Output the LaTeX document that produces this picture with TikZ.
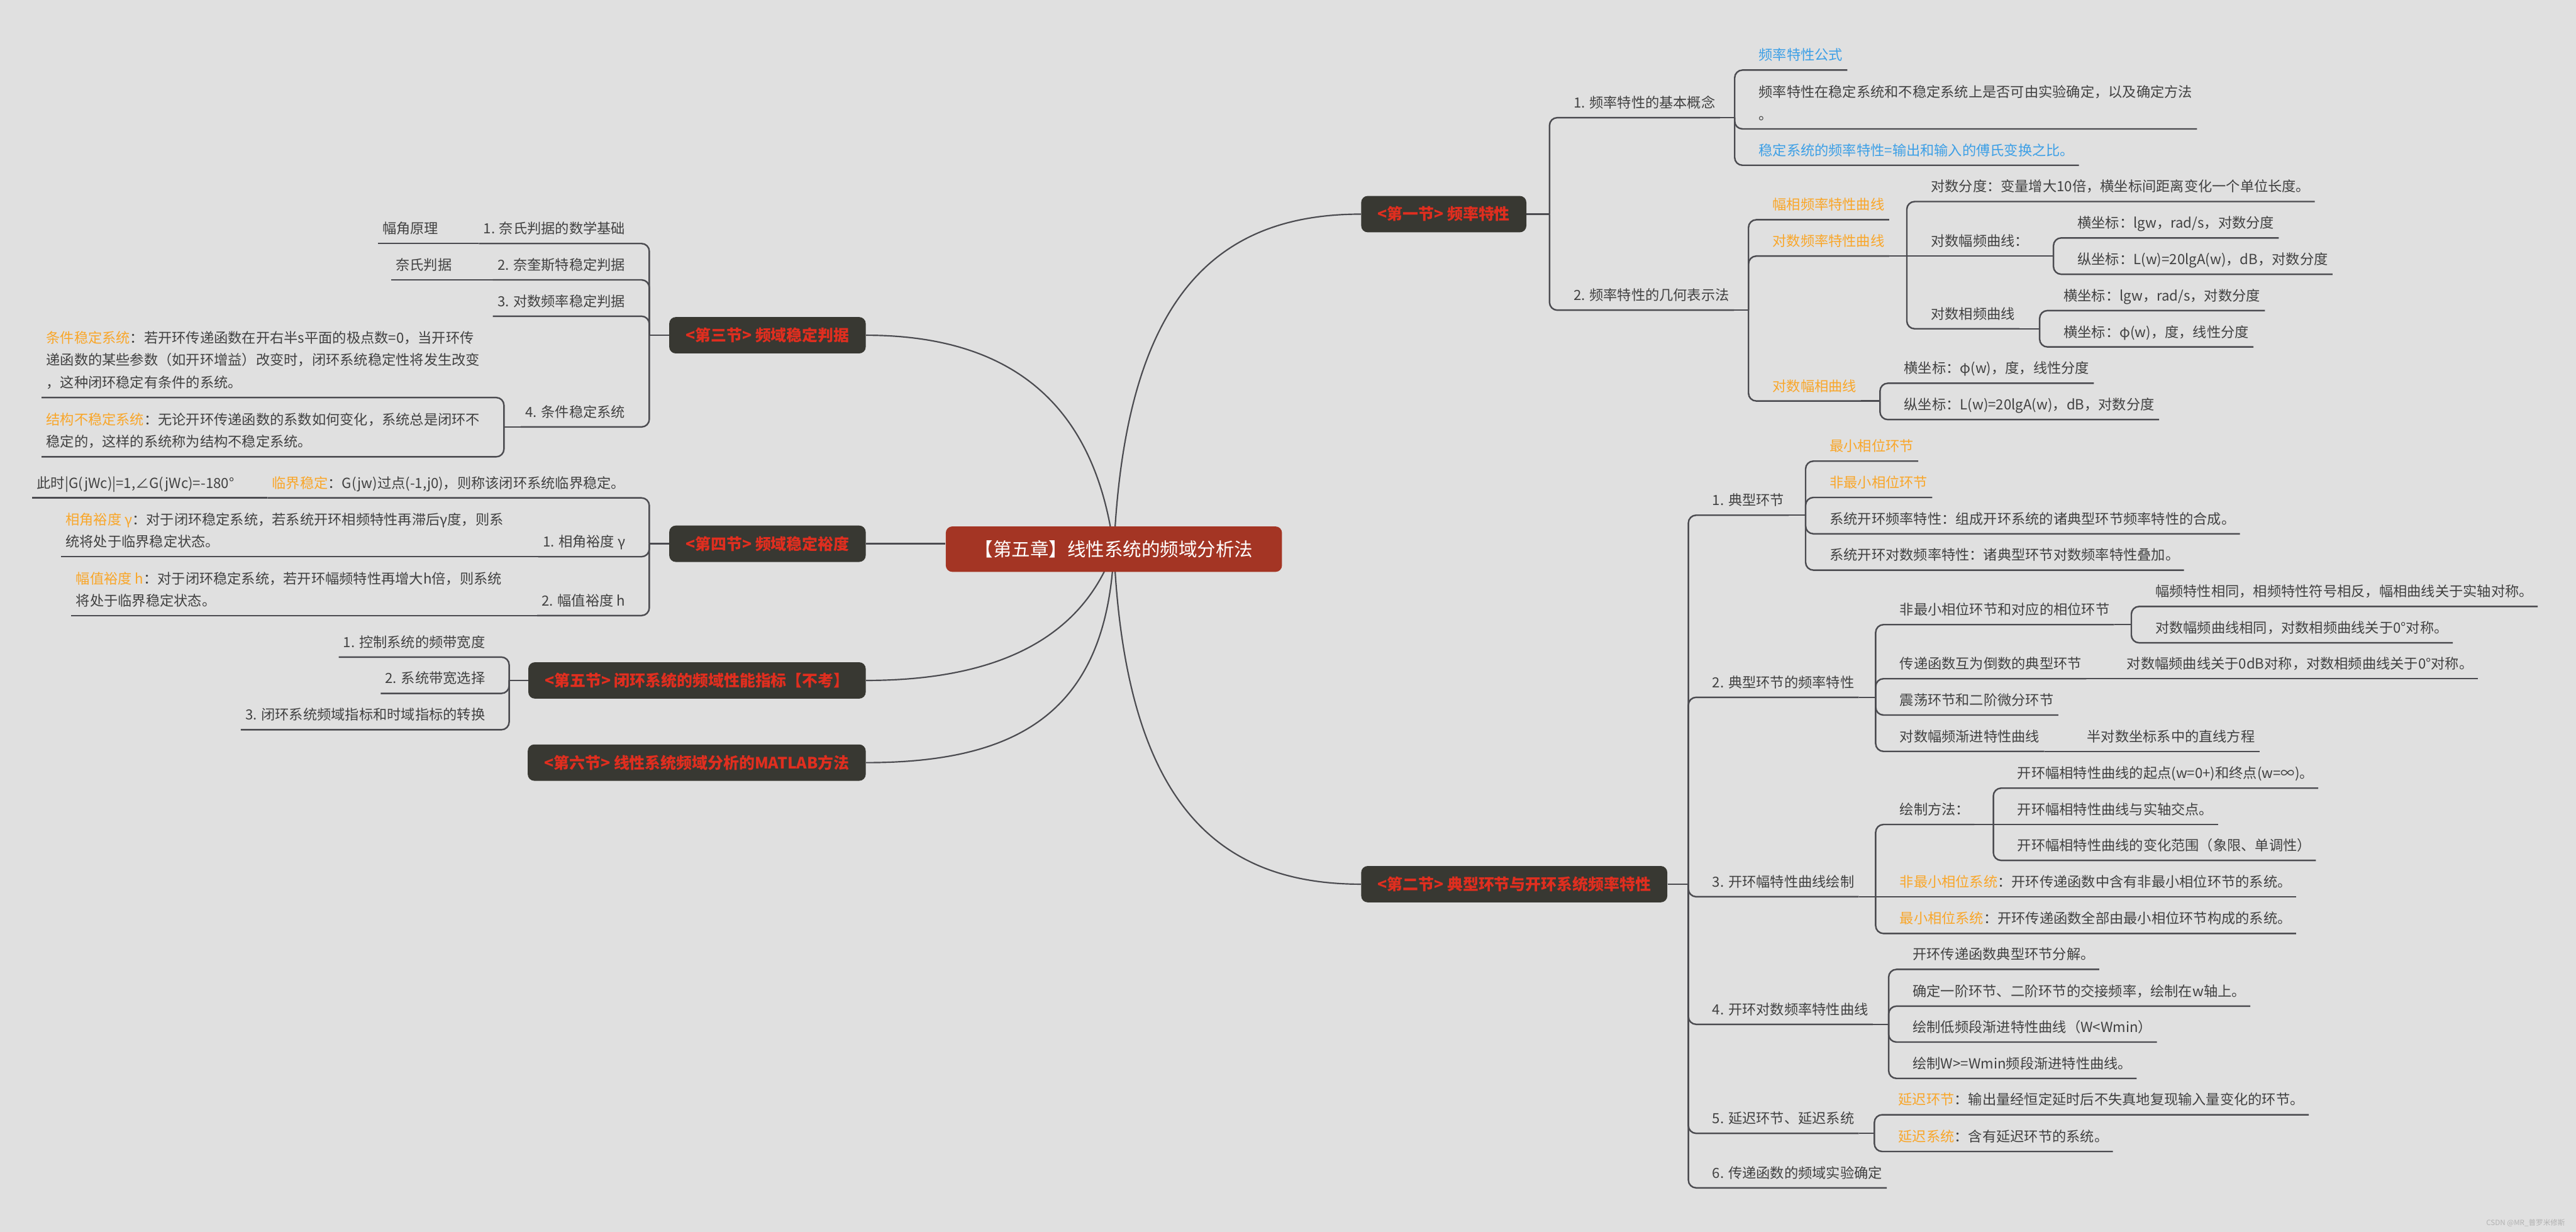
\documentclass[tikz,border=0pt]{standalone}
\usepackage{fontspec}
\setmainfont{Noto Sans CJK SC}
\usetikzlibrary{calc}
\definecolor{bgc}{HTML}{E0E0E0}
\definecolor{linegray}{HTML}{4B4B50}
\definecolor{txtgray}{HTML}{414141}
\definecolor{orc}{HTML}{F9A629}
\definecolor{blc}{HTML}{3C9FE6}
\definecolor{secgray}{HTML}{383832}
\definecolor{secred}{HTML}{E02E1F}
\definecolor{rootred}{HTML}{A43524}
\newcommand\bodyfont{\fontsize{9.2pt}{14.6pt}\selectfont}
\newcommand\hlt[1]{\textcolor{orc}{#1}}

\begin{document}
\begin{tikzpicture}[
  rt/.style={fill=rootred,text=white,rounded corners=1.5mm,minimum height=10.5mm,inner xsep=6.7mm,font=\fontsize{12.2pt}{14pt}\selectfont},
  sec/.style={fill=secgray,text=secred,rounded corners=1.5mm,minimum height=8.4mm,inner xsep=3.8mm,font=\fontsize{10.3pt}{12pt}\selectfont\bfseries},
  tp/.style={anchor=south west,inner xsep=1mm,inner ysep=1.6mm,text height=2.6mm,text depth=0.6mm,font=\bodyfont,text=txtgray},
  tl/.style={tp,anchor=south east},
  tm/.style={anchor=south west,inner xsep=1mm,inner ysep=1.9mm,align=left,font=\bodyfont,text=txtgray},
  tml/.style={tm,anchor=south east},
  lk/.style={draw=linegray,line width=1pt},
  cv/.style={draw=linegray,line width=0.9pt}]
  % canvas
  \fill[bgc] (0,0) rectangle (59.55,-28.48);
  \useasboundingbox (0,0) rectangle (59.55,-28.48);
  % sections
  \node[sec,anchor=west] (s1) at (31.46,-4.95) {<第一节> 频率特性};
  \node[sec,anchor=west] (s2) at (31.46,-20.44) {<第二节> 典型环节与开环系统频率特性};
  \node[sec,anchor=east] (s3) at (20.02,-7.75) {<第三节> 频域稳定判据};
  \node[sec,anchor=east] (s4) at (20.02,-12.57) {<第四节> 频域稳定裕度};
  \node[sec,anchor=east] (s5) at (20.02,-15.73) {<第五节> 闭环系统的频域性能指标【不考】};
  \node[sec,anchor=east] (s6) at (20.02,-17.63) {<第六节> 线性系统频域分析的MATLAB方法};
  % root and its curves (drawn under the root box)
  \coordinate (rc) at (25.75,-12.695);
  \draw[cv] (rc) .. controls ($(rc)+(0.25,5.7)$) and ($(s1.west)+(-3.46,0)$) .. (s1.west);
  \draw[cv] (rc) .. controls ($(rc)+(0.25,-5.7)$) and ($(s2.west)+(-3.46,0)$) .. (s2.west);
  \draw[cv] (s3.east) .. controls ($(s3.east)+(3.98,0)$) and ($(rc)+(-0.35,2.7)$) .. (rc);
  \draw[cv] (s5.east) .. controls ($(s5.east)+(2.98,0)$) and ($(rc)+(-0.75,-2.1)$) .. (rc);
  \draw[cv] (s6.east) .. controls ($(s6.east)+(3.48,0)$) and ($(rc)+(-0.15,-3.8)$) .. (rc);
  \node[rt] (root) at (rc) {【第五章】线性系统的频域分析法};
  \draw[lk] (s4.east) -- (s4.east -| root.west);
  % first section
  \node[tp] (a1) at (36.27,-2.72) {1. 频率特性的基本概念};
  \node[tp] (a2) at (36.27,-7.17) {2. 频率特性的几何表示法};
  \node[tp,text=blc] (a11) at (40.55,-1.62) {频率特性公式};
  \node[tm] (a12) at (40.55,-2.98) {频率特性在稳定系统和不稳定系统上是否可由实验确定，以及确定方法\\。};
  \node[tp,text=blc] (a13) at (40.55,-3.82) {稳定系统的频率特性=输出和输入的傅氏变换之比。};
  \node[tp,text=orc] (a21) at (40.87,-5.08) {幅相频率特性曲线};
  \node[tp,text=orc] (a22) at (40.87,-5.92) {对数频率特性曲线};
  \node[tp,text=orc] (a23) at (40.87,-9.27) {对数幅相曲线};
  \node[tp] (a221) at (44.53,-4.66) {对数分度：变量增大10倍，横坐标间距离变化一个单位长度。};
  \node[tp] (a222) at (44.53,-5.92) {对数幅频曲线：};
  \node[tp] (a223) at (44.53,-7.60) {对数相频曲线};
  \node[tp] (a2221) at (47.92,-5.50) {横坐标：lgw，rad/s，对数分度};
  \node[tp] (a2222) at (47.92,-6.34) {纵坐标：L(w)=20lgA(w)，dB，对数分度};
  \node[tp] (a2231) at (47.60,-7.18) {横坐标：lgw，rad/s，对数分度};
  \node[tp] (a2232) at (47.60,-8.02) {横坐标：φ(w)，度，线性分度};
  \node[tp] (a231) at (43.91,-8.86) {横坐标：φ(w)，度，线性分度};
  \node[tp] (a232) at (43.91,-9.70) {纵坐标：L(w)=20lgA(w)，dB，对数分度};
  % second section
  \node[tp] (b1) at (39.48,-11.91) {1. 典型环节};
  \node[tp] (b2) at (39.48,-16.12) {2. 典型环节的频率特性};
  \node[tp] (b3) at (39.48,-20.73) {3. 开环幅特性曲线绘制};
  \node[tp] (b4) at (39.48,-23.68) {4. 开环对数频率特性曲线};
  \node[tp] (b5) at (39.48,-26.20) {5. 延迟环节、延迟系统};
  \node[tp] (b6) at (39.48,-27.46) {6. 传递函数的频域实验确定};
  \node[tp,text=orc] (b11) at (42.19,-10.66) {最小相位环节};
  \node[tp,text=orc] (b12) at (42.19,-11.50) {非最小相位环节};
  \node[tp] (b13) at (42.19,-12.34) {系统开环频率特性：组成开环系统的诸典型环节频率特性的合成。};
  \node[tp] (b14) at (42.19,-13.18) {系统开环对数频率特性：诸典型环节对数频率特性叠加。};
  \node[tp] (b21) at (43.81,-14.44) {非最小相位环节和对应的相位环节};
  \node[tp] (b22) at (43.81,-15.69) {传递函数互为倒数的典型环节};
  \node[tp] (b23) at (43.81,-16.53) {震荡环节和二阶微分环节};
  \node[tp] (b24) at (43.81,-17.37) {对数幅频渐进特性曲线};
  \node[tp] (b211) at (49.72,-14.02) {幅频特性相同，相频特性符号相反，幅相曲线关于实轴对称。};
  \node[tp] (b212) at (49.72,-14.86) {对数幅频曲线相同，对数相频曲线关于0°对称。};
  \node[tp] (b221) at (49.06,-15.69) {对数幅频曲线关于0dB对称，对数相频曲线关于0°对称。};
  \node[tp] (b241) at (48.14,-17.37) {半对数坐标系中的直线方程};
  \node[tp] (b31) at (43.81,-19.06) {绘制方法：};
  \node[tp] (b32) at (43.81,-20.73) {\hlt{非最小相位系统}：开环传递函数中含有非最小相位环节的系统。};
  \node[tp] (b33) at (43.81,-21.58) {\hlt{最小相位系统}：开环传递函数全部由最小相位环节构成的系统。};
  \node[tp] (b311) at (46.53,-18.22) {开环幅相特性曲线的起点(w=0+)和终点(w=∞)。};
  \node[tp] (b312) at (46.53,-19.06) {开环幅相特性曲线与实轴交点。};
  \node[tp] (b313) at (46.53,-19.89) {开环幅相特性曲线的变化范围（象限、单调性）};
  \node[tp] (b41) at (44.11,-22.41) {开环传递函数典型环节分解。};
  \node[tp] (b42) at (44.11,-23.26) {确定一阶环节、二阶环节的交接频率，绘制在w轴上。};
  \node[tp] (b43) at (44.11,-24.09) {绘制低频段渐进特性曲线（W<Wmin）};
  \node[tp] (b44) at (44.11,-24.93) {绘制W>=Wmin频段渐进特性曲线。};
  \node[tp] (b51) at (43.78,-25.77) {\hlt{延迟环节}：输出量经恒定延时后不失真地复现输入量变化的环节。};
  \node[tp] (b52) at (43.78,-26.62) {\hlt{延迟系统}：含有延迟环节的系统。};
  % third section
  \node[tl] (c1) at (14.56,-5.63) {1. 奈氏判据的数学基础};
  \node[tl] (c2) at (14.56,-6.47) {2. 奈奎斯特稳定判据};
  \node[tl] (c3) at (14.56,-7.31) {3. 对数频率稳定判据};
  \node[tl] (c4) at (14.56,-9.87) {4. 条件稳定系统};
  \node[tl] (c11) at (10.24,-5.63) {幅角原理};
  \node[tl] (c21) at (10.55,-6.47) {奈氏判据};
  \node[tml] (c41) at (11.20,-9.19) {\hlt{条件稳定系统}：若开环传递函数在开右半s平面的极点数=0，当开环传\\递函数的某些参数（如开环增益）改变时，闭环系统稳定性将发生改变\\，这种闭环稳定有条件的系统。};
  \node[tml] (c42) at (11.20,-10.56) {\hlt{结构不稳定系统}：无论开环传递函数的系数如何变化，系统总是闭环不\\稳定的，这样的系统称为结构不稳定系统。};
  % fourth section
  \node[tl] (d0) at (14.56,-11.51) {\hlt{临界稳定}：G(jw)过点(-1,j0)，则称该闭环系统临界稳定。};
  \node[tl] (d01) at (5.52,-11.51) {此时|G(jWc)|=1,∠G(jWc)=-180°};
  \node[tl] (d1) at (14.56,-12.87) {1. 相角裕度 γ};
  \node[tm] (d11) at (1.41,-12.87) {\hlt{相角裕度 γ}：对于闭环稳定系统，若系统开环相频特性再滞后γ度，则系\\统将处于临界稳定状态。};
  \node[tl] (d2) at (14.56,-14.23) {2. 幅值裕度 h};
  \node[tm] (d21) at (1.65,-14.23) {\hlt{幅值裕度 h}：对于闭环稳定系统，若开环幅频特性再增大h倍，则系统\\将处于临界稳定状态。};
  % fifth section
  \node[tl] (e1) at (11.32,-15.19) {1. 控制系统的频带宽度};
  \node[tl] (e2) at (11.32,-16.03) {2. 系统带宽选择};
  \node[tl] (e3) at (11.32,-16.87) {3. 闭环系统频域指标和时域指标的转换};
  % links to the right, bracket 4.5mm before the child
  \foreach \p/\c in {s1.east/a1,s1.east/a2,a1.south east/a11,a1.south east/a12,a1.south east/a13,
    a2.south east/a21,a2.south east/a22,a2.south east/a23,a22.south east/a221,a22.south east/a223,
    a222.south east/a2221,a222.south east/a2222,a223.south east/a2231,a223.south east/a2232,
    a23.south east/a231,a23.south east/a232,
    s2.east/b1,s2.east/b2,s2.east/b3,s2.east/b4,s2.east/b5,s2.east/b6,
    b1.south east/b11,b1.south east/b12,b1.south east/b13,b1.south east/b14,
    b2.south east/b21,b2.south east/b22,b2.south east/b23,b2.south east/b24,
    b21.south east/b211,b21.south east/b212,b3.south east/b31,b3.south east/b33,
    b31.south east/b311,b31.south east/b313,
    b4.south east/b41,b4.south east/b42,b4.south east/b43,b4.south east/b44,
    b5.south east/b51,b5.south east/b52}
  {
    \draw[lk] (\p) -- ($(\c.south west |- \p)+(-0.45,0)$);
    \draw[lk,rounded corners=1.8mm] ($(\c.south west |- \p)+(-0.45,0)$) |- (\c.south west) -- (\c.south east);
  }
  \foreach \p/\c in {a22.south east/a222,b22.south east/b221,b24.south east/b241,b3.south east/b32,b31.south east/b312}
    \draw[lk] (\p) -- (\c.south west) -- (\c.south east);
  % links to the left
  \foreach \p/\c in {s3.west/c1,s3.west/c2,s3.west/c3,s3.west/c4,c4.south west/c41,c4.south west/c42,
    s4.west/d0,s4.west/d1,s4.west/d2,s5.west/e1,s5.west/e2,s5.west/e3}
  {
    \draw[lk] (\p) -- ($(\c.south east |- \p)+(0.45,0)$);
    \draw[lk,rounded corners=1.8mm] ($(\c.south east |- \p)+(0.45,0)$) |- (\c.south east) -- (\c.south west);
  }
  \foreach \p/\c in {c1.south west/c11,c2.south west/c21,d0.south west/d01,d1.south west/d11,d2.south west/d21}
    \draw[lk] (\p) -- (\c.south east) -- (\c.south west);
  % watermark
  \node[anchor=east,font=\fontsize{4.8pt}{6pt}\selectfont,text=black!30] (wm) at (59.42,-28.27) {CSDN @MR\_普罗米修斯};
\end{tikzpicture}
\end{document}
